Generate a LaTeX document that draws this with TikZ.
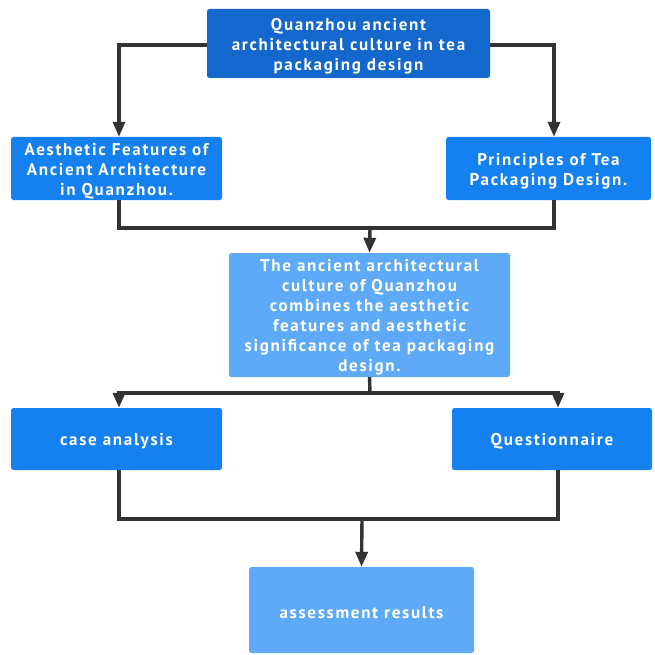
\documentclass[tikz,border=0pt]{standalone}
\usepackage{fontspec}
\setmainfont{PT Sans}[LetterSpace=10]
\usetikzlibrary{arrows.meta}
\definecolor{darkb}{HTML}{1467CD}
\definecolor{midb}{HTML}{1581F0}
\definecolor{lightb}{HTML}{5FAAF8}
\definecolor{linec}{HTML}{333333}
\tikzset{
  box/.style={rectangle, rounded corners=2.5pt, inner sep=2pt},
  boxtext/.style={text=white, font=\fontsize{17}{20}\selectfont\bfseries,
    align=center, yshift=-2.5pt},
  conn/.style={draw=linec, line width=3.4pt},
  arr/.style={conn, -{Triangle[width=12pt,length=15pt]}},
}
\begin{document}
\begin{tikzpicture}[x=1pt,y=-1pt]
\useasboundingbox (0,0) rectangle (654,655);
\node[box, fill=darkb, minimum width=283pt, minimum height=69pt,
  label={[boxtext]center:{Quanzhou ancient\\architectural culture in tea\\packaging design}}] (top) at (348.5,43.5) {};
\node[box, fill=midb, minimum width=211pt, minimum height=63pt,
  label={[boxtext]center:{Aesthetic Features of\\Ancient Architecture\\in Quanzhou.}}] (left) at (116.5,168.5) {};
\node[box, fill=midb, minimum width=205pt, minimum height=63pt,
  label={[boxtext]center:{Principles of Tea\\Packaging Design.}}] (right) at (548.5,168.5) {};
\node[box, fill=lightb, minimum width=281pt, minimum height=124pt,
  label={[boxtext]center:{The ancient architectural\\culture of Quanzhou\\combines the aesthetic\\features and aesthetic\\significance of tea packaging\\design.}}] (mid) at (369.5,315) {};
\node[box, fill=midb, minimum width=211pt, minimum height=62pt,
  label={[boxtext]center:{case analysis}}] (case) at (116.5,439) {};
\node[box, fill=midb, minimum width=200pt, minimum height=62pt,
  label={[boxtext]center:{Questionnaire}}] (quest) at (552,439) {};
\node[box, fill=lightb, minimum width=225pt, minimum height=86pt,
  label={[boxtext]center:{assessment results}}] (res) at (361.5,610) {};
\coordinate (cl) at (119,0);
\coordinate (cr) at (554,0);
\coordinate (cq) at (558,0);
\coordinate (j1) at (370,228);
\coordinate (j2) at (370,393);
\coordinate (j3) at (362,519);
\draw[arr] (top.west |- 0,45) -| (cl |- left.north);
\draw[arr] (top.east |- 0,45) -| (cr |- right.north);
\draw[conn, line join=miter] (cl |- left.south) |- (j1) -| (cr |- right.south);
\draw[arr] (j1) -- (mid.north);
\draw[conn] (mid.south) -- (j2);
\draw[arr, line join=miter] (j2) -| (cl |- case.north);
\draw[arr, line join=miter] (j2) -| (cq |- quest.north);
\draw[conn, line join=miter] (cl |- case.south) |- (j3) -| (cq |- quest.south);
\draw[arr] (j3) -- (res.north);
\end{tikzpicture}
\end{document}
